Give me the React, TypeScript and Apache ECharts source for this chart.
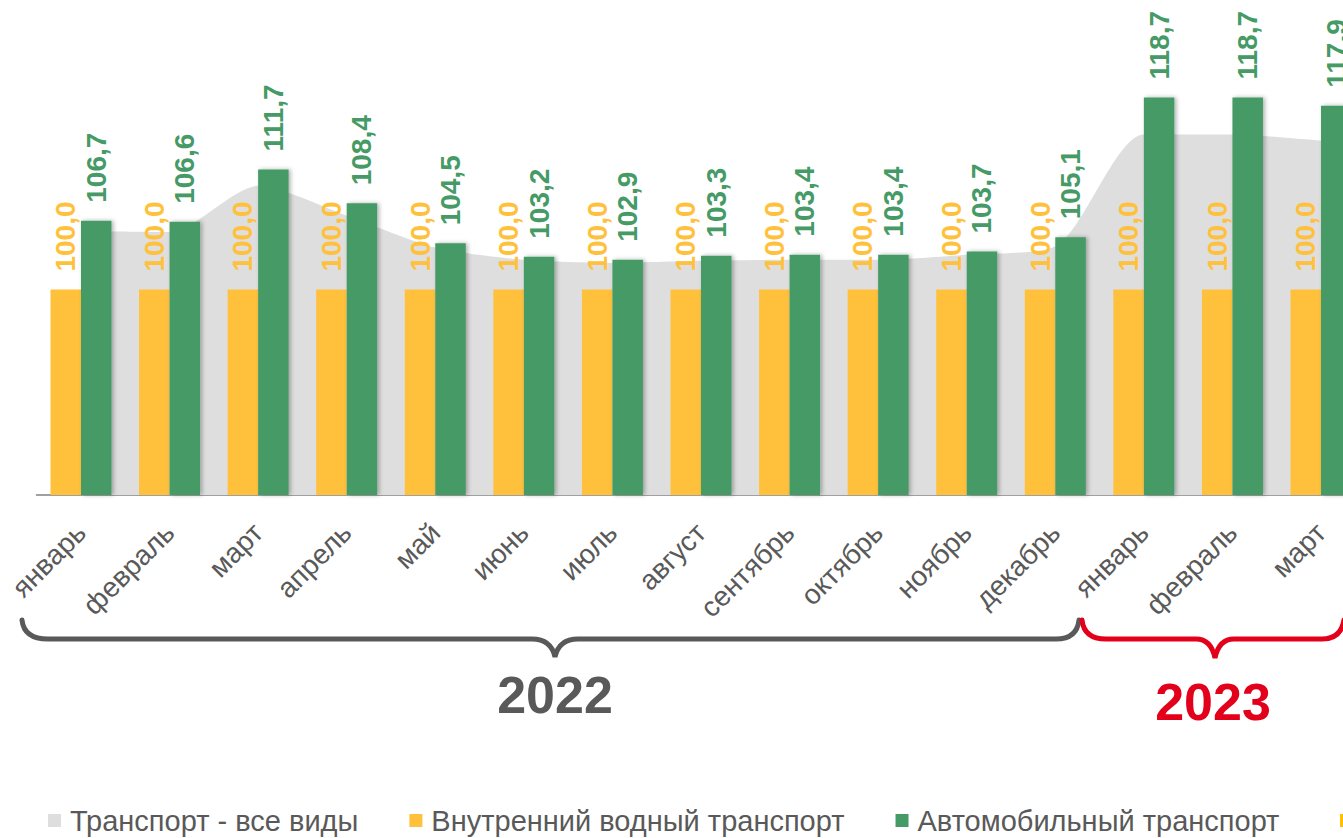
import React, { useEffect, useRef } from "react";
import * as echarts from "echarts";

const categories = [
  "январь", "февраль", "март", "апрель", "май", "июнь", "июль", "август",
  "сентябрь", "октябрь", "ноябрь", "декабрь", "январь", "февраль", "март",
];
const allTransport = [105.7, 105.6, 110.1, 107.2, 104.1, 102.9, 102.6, 102.8, 102.9, 102.9, 103.4, 104.2, 115.1, 115.1, 114.5];
const waterTransport = [100.0, 100.0, 100.0, 100.0, 100.0, 100.0, 100.0, 100.0, 100.0, 100.0, 100.0, 100.0, 100.0, 100.0, 100.0];
const roadTransport = [106.7, 106.6, 111.7, 108.4, 104.5, 103.2, 102.9, 103.3, 103.4, 103.4, 103.7, 105.1, 118.7, 118.7, 117.9];
const seriesNames = ["Транспорт - все виды", "Внутренний водный транспорт", "Автомобильный транспорт"];
const yearLabels = ["2022", "2023"];

const FONT = "'Liberation Sans', Arial, sans-serif";
const GRAY_TEXT = "#595959";
const RED = "#E3001B";
const YELLOW = "#FFC13B";
const GREEN = "#459A66";
const AREA = "#DEDEDE";

const brace2022 =
  "M 22 620 Q 24 639 48 639 L 532 639 Q 551 639 555 657 Q 559 639 578 639 L 1056 639 Q 1077 639 1079 620";
const brace2023 =
  "M 1082 620 Q 1084 639 1106 639 L 1196 639 Q 1211 639 1215 658 Q 1219 639 1234 639 L 1322 639 Q 1341 639 1344 620";

let registered = false;
function registerShapes() {
  if (registered) return;
  echarts.graphic.registerShape("brace2022", echarts.graphic.extendPath(brace2022, {}));
  echarts.graphic.registerShape("brace2023", echarts.graphic.extendPath(brace2023, {}));
  registered = true;
}

const fmt = (p: any) => Number(p.value).toFixed(1).replace(".", ",");

export default function App() {
  const ref = useRef<HTMLDivElement>(null);
  useEffect(() => {
    if (!ref.current) return;
    registerShapes();
    const chart = echarts.init(ref.current, null, { renderer: "svg" });
    chart.setOption({
      animation: false,
      backgroundColor: "#ffffff",
      grid: { left: 36.7, width: 1328.6, top: 2, bottom: 343, containLabel: false },
      legend: {
        left: 43,
        top: 801,
        icon: "rect",
        itemWidth: 13,
        itemHeight: 13,
        itemGap: 51,
        data: seriesNames,
        textStyle: { fontSize: 29, color: GRAY_TEXT, fontFamily: FONT, padding: [0, 0, 0, 4] },
      },
      xAxis: {
        type: "category",
        data: categories,
        boundaryGap: true,
        axisLine: { show: true, lineStyle: { color: "#A0A0A0", width: 2 } },
        axisTick: { show: false },
        axisLabel: {
          interval: 0,
          rotate: 45,
          margin: 33,
          fontSize: 28,
          color: GRAY_TEXT,
          fontFamily: FONT,
        },
      },
      yAxis: {
        type: "value",
        min: 80,
        max: 128,
        show: false,
        splitLine: { show: false },
      },
      series: [
        {
          name: seriesNames[0],
          type: "line",
          data: allTransport,
          smooth: 0.25,
          symbol: "none",
          lineStyle: { width: 0, color: AREA },
          itemStyle: { color: AREA },
          areaStyle: { color: AREA, opacity: 1 },
          z: 1,
        },
        {
          name: seriesNames[1],
          type: "bar",
          data: waterTransport,
          barWidth: 30.5,
          barGap: "0%",
          itemStyle: { color: YELLOW },
          label: {
            show: true,
            position: "top",
            rotate: 90,
            align: "left",
            verticalAlign: "middle",
            distance: 18,
            formatter: fmt,
            fontSize: 28,
            fontWeight: "bold",
            fontFamily: FONT,
            color: YELLOW,
          },
          z: 2,
        },
        {
          name: seriesNames[2],
          type: "bar",
          data: roadTransport,
          barWidth: 30.5,
          barGap: "0%",
          itemStyle: {
            color: GREEN,
            shadowBlur: 4,
            shadowOffsetX: 2,
            shadowColor: "rgba(0,0,0,0.3)",
          },
          label: {
            show: true,
            position: "top",
            rotate: 90,
            align: "left",
            verticalAlign: "middle",
            distance: 18,
            formatter: fmt,
            fontSize: 28,
            fontWeight: "bold",
            fontFamily: FONT,
            color: GREEN,
          },
          z: 3,
        },
      ],
      graphic: [
        {
          type: "brace2022",
          x: 0,
          y: 0,
          style: { stroke: GRAY_TEXT, lineWidth: 5, fill: "none", lineCap: "round" },
        },
        {
          type: "brace2023",
          x: 0,
          y: 0,
          style: { stroke: RED, lineWidth: 5, fill: "none", lineCap: "round" },
        },
        {
          type: "text",
          x: 555,
          y: 695,
          style: {
            text: yearLabels[0],
            font: `bold 52px ${FONT}`,
            fill: GRAY_TEXT,
            textAlign: "center",
            textVerticalAlign: "middle",
          },
        },
        {
          type: "text",
          x: 1213,
          y: 702,
          style: {
            text: yearLabels[1],
            font: `bold 52px ${FONT}`,
            fill: RED,
            textAlign: "center",
            textVerticalAlign: "middle",
          },
        },
        {
          type: "rect",
          shape: { x: 1340, y: 814, width: 13, height: 13 },
          style: { fill: "#FFC000" },
        },
      ],
    });
    return () => chart.dispose();
  }, []);
  return (
    <div
      style={{
        position: "absolute",
        left: 0,
        top: 0,
        width: 1343,
        height: 838,
        overflow: "hidden",
        background: "#fff",
      }}
    >
      <div ref={ref} style={{ width: 1400, height: 838 }} />
    </div>
  );
}
